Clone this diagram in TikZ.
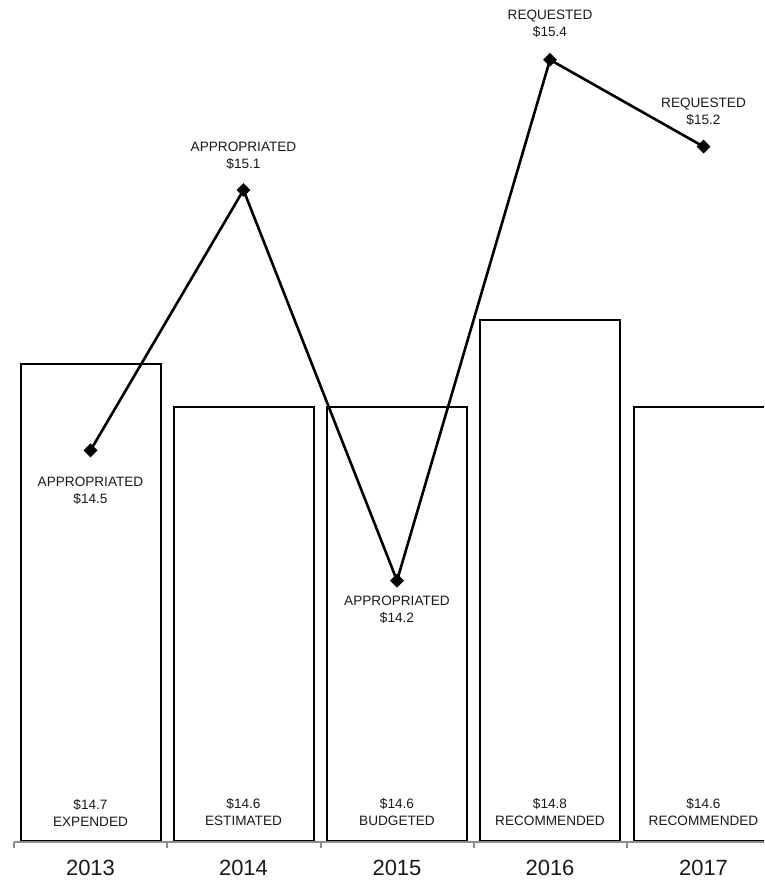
\documentclass[tikz,border=0pt]{standalone}
\usepackage{fontspec}
\setmainfont{Liberation Sans}
\usepackage{tikz}
\usetikzlibrary{positioning,shapes.geometric}

\begin{document}
\begin{tikzpicture}[x=1pt, y=434pt,
    bar/.style={draw=black, line width=2pt, fill=white},
    point/.style={diamond, fill=black, inner sep=0pt, minimum size=14pt},
    trend/.style={draw=black, line width=2.6pt},
    figure/.style={align=center, inner sep=0pt, text=black!90,
      font=\fontsize{13.6}{17}\selectfont},
    year/.style={inner sep=0pt, text=black!90, font=\fontsize{22}{24}\selectfont},
    axis/.style={draw=black!45, line width=2pt}]
  \useasboundingbox (0pt,0pt) rectangle (764pt,882pt);
  \clip (0pt,0pt) rectangle (764pt,882pt);
  \begin{scope}[yshift=41pt]
    % Bars
    \draw[bar] (20.5,0) rectangle (160.5,{14.7-13.6});
    \draw[bar] (173.5,0) rectangle (313.5,{14.6-13.6});
    \draw[bar] (327,0) rectangle (467,{14.6-13.6});
    \draw[bar] (480,0) rectangle (620,{14.8-13.6});
    \draw[bar] (633.5,0) rectangle (780,{14.6-13.6});

    % Bar values
    \node[figure, yshift=28.5pt] (cap13) at (90.5,0) {\$14.7\\EXPENDED};
    \node[figure, yshift=28.5pt] (cap14) at (243.5,0) {\$14.6\\ESTIMATED};
    \node[figure, yshift=28.5pt] (cap15) at (397,0) {\$14.6\\BUDGETED};
    \node[figure, yshift=28.5pt] (cap16) at (550,0) {\$14.8\\RECOMMENDED};
    \node[figure, yshift=28.5pt] (cap17) at (703.5,0) {\$14.6\\RECOMMENDED};

    % Axis
    \draw[axis] (14,-1pt) -- (780,-1pt);
    \draw[axis] (14,-1pt) -- (14,-7pt);
    \draw[axis] (167.3,-1pt) -- (167.3,-7pt);
    \draw[axis] (320.6,-1pt) -- (320.6,-7pt);
    \draw[axis] (473.9,-1pt) -- (473.9,-7pt);
    \draw[axis] (627.2,-1pt) -- (627.2,-7pt);

    % Years
    \node[year] (y13) at (90.5,-27pt) {2013};
    \node[year] (y14) at (243.5,-27pt) {2014};
    \node[year] (y15) at (397,-27pt) {2015};
    \node[year] (y16) at (550,-27pt) {2016};
    \node[year] (y17) at (703.5,-27pt) {2017};

    % Points
    \node[point] (p13) at (90.5,{14.5-13.6}) {};
    \node[point] (p14) at (243.5,{15.1-13.6}) {};
    \node[point] (p15) at (397,{14.2-13.6}) {};
    \node[point] (p16) at (550,{15.4-13.6}) {};
    \node[point] (p17) at (703.5,{15.2-13.6}) {};

    \node[figure, below=19.5pt of p13] (l13) {APPROPRIATED\\\$14.5};
    \node[figure, above=13.5pt of p14] (l14) {APPROPRIATED\\\$15.1};
    \node[figure, below=8.5pt of p15] (l15) {APPROPRIATED\\\$14.2};
    \node[figure, above=14.5pt of p16] (l16) {REQUESTED\\\$15.4};
    \node[figure, above=13.5pt of p17] (l17) {REQUESTED\\\$15.2};

    % Line
    \draw[trend] (p13.center) -- (p14.center) -- (p15.center)
      -- (p16.center) -- (p17.center);
  \end{scope}
\end{tikzpicture}
\end{document}
